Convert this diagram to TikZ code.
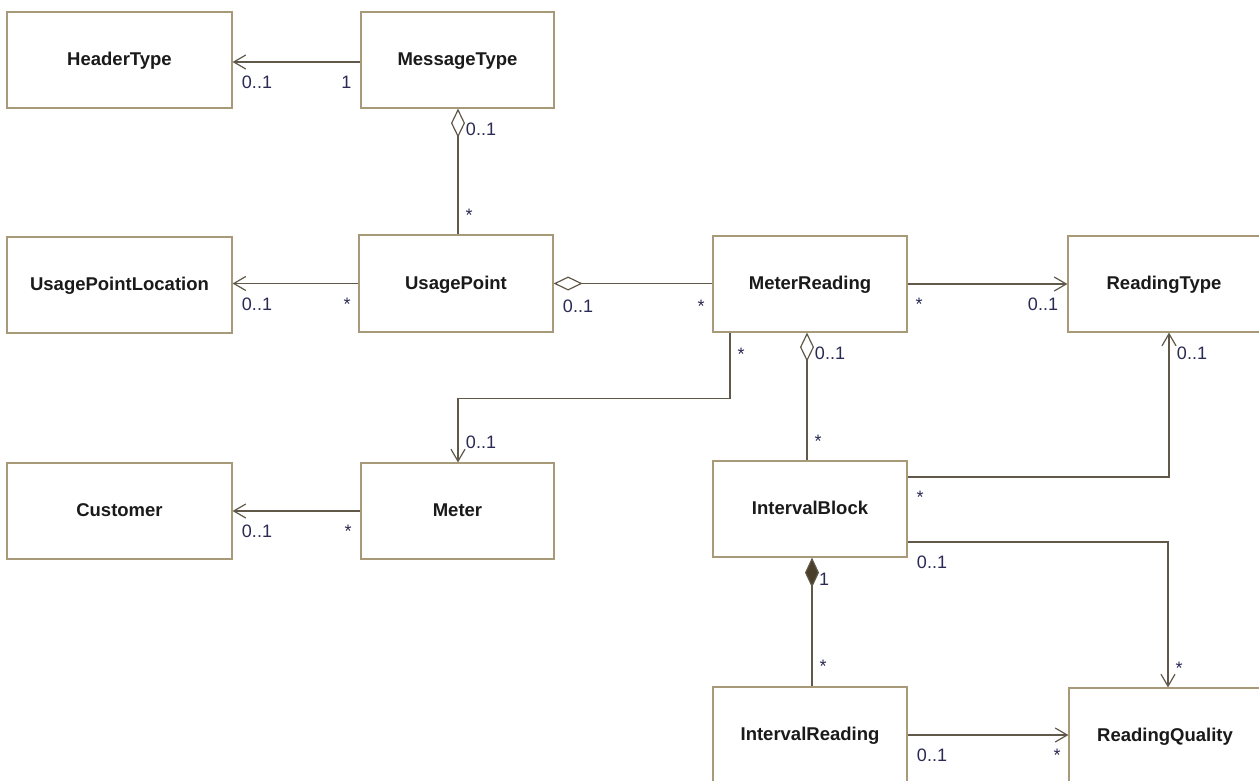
\documentclass[tikz,border=0pt]{standalone}
\usepackage{fontspec}
\setmainfont{Liberation Sans}
\usetikzlibrary{arrows.meta}
\definecolor{boxc}{HTML}{A89A78}
\definecolor{linec}{HTML}{605848}
\definecolor{labc}{HTML}{2A2A55}
\definecolor{diac}{HTML}{4A3F2A}
\definecolor{namec}{HTML}{1A1A1A}
\begin{document}
\begin{tikzpicture}[x=1pt,y=-1pt,
  cls/.style={draw=boxc, line width=1.2pt, fill=white, inner sep=0pt,
    minimum height=96pt, text=namec, text height=11pt, text depth=0pt,
    font=\bfseries\fontsize{18.5}{22}\selectfont},
  assoc/.style={draw=linec, line width=1.2pt},
  nav/.style={assoc, -{Straight Barb[length=12pt,width=14pt]}},
  agg/.style={assoc, {Diamond[open,length=29pt,width=14pt,fill=white]}-},
  comp/.style={assoc, {Diamond[length=30pt,width=14pt,fill=diac]}-},
  mult/.style={text=labc, font=\fontsize{18}{20}\selectfont, inner sep=0pt, anchor=base}]
\useasboundingbox[fill=white] (0,0) rectangle (1259,780);

% classes
\node[cls, minimum width=225pt] (ht) at (119.5,60) {HeaderType};
\node[cls, minimum width=193pt] (mt) at (457.5,60) {MessageType};
\node[cls, minimum width=225pt] (upl) at (119.5,285) {UsagePointLocation};
\node[cls, minimum width=194pt, minimum height=97pt] (up) at (456,283.5) {UsagePoint};
\node[cls, minimum width=194pt] (mr) at (810,284) {MeterReading};
\node[cls, minimum width=192pt] (rt) at (1164,284) {ReadingType};
\node[cls, minimum width=225pt] (cu) at (119.5,511) {Customer};
\node[cls, minimum width=193pt] (me) at (457.5,511) {Meter};
\node[cls, minimum width=194pt] (ib) at (810,509) {IntervalBlock};
\node[cls, minimum width=194pt] (ir) at (810,735) {IntervalReading};
\node[cls, minimum width=192pt] (rq) at (1165,736) {ReadingQuality};

% connectors
\draw[nav] ([yshift=-2pt]mt.west) -- ([yshift=-2pt]mt.west -| ht.east);
\draw[agg] ([xshift=0.5pt]mt.south) -- ([xshift=0.5pt]mt.south |- up.north);
\draw[nav] (up.west) -- (up.west -| upl.east);
\draw[agg] (up.east) -- (up.east -| mr.west);
\draw[nav] (mr.east) -- (mr.east -| rt.west);
\draw[nav] ([xshift=-80pt]mr.south) -- ++(0,66) -| ([xshift=0.5pt]me.north);
\draw[agg] ([xshift=-3pt]mr.south) -- ([xshift=-3pt]ib.north);
\draw[nav] ([yshift=32pt]ib.east) -| ([xshift=5pt]rt.south);
\draw[nav] ([yshift=-33pt]ib.east) -| ([xshift=3pt]rq.north);
\draw[comp] ([xshift=2pt]ib.south) -- ([xshift=2pt]ir.north);
\draw[nav] (ir.east) -- (ir.east -| rq.west);
\draw[nav] (me.west) -- (me.west -| cu.east);

% multiplicities
\node[mult] (m1) at (257,88.5) {0..1};
\node[mult] (m2) at (346.5,88.5) {1};
\node[mult] (m3) at (481,135.5) {0..1};
\node[mult] (m4) at (469,221) {*};
\node[mult] (m5) at (257,310.5) {0..1};
\node[mult] (m6) at (347,310) {*};
\node[mult] (m7) at (578,312.5) {0..1};
\node[mult] (m8) at (701,312) {*};
\node[mult] (m9) at (919,310) {*};
\node[mult] (m10) at (1043,310.5) {0..1};
\node[mult] (m11) at (741,360) {*};
\node[mult] (m12) at (481,448) {0..1};
\node[mult] (m13) at (830,359.5) {0..1};
\node[mult] (m14) at (818,447) {*};
\node[mult] (m15) at (1192,359.5) {0..1};
\node[mult] (m16) at (920,503) {*};
\node[mult] (m17) at (932,568.5) {0..1};
\node[mult] (m18) at (1179,674) {*};
\node[mult] (m19) at (824,585.5) {1};
\node[mult] (m20) at (823,672) {*};
\node[mult] (m21) at (932,761.5) {0..1};
\node[mult] (m22) at (1057,761) {*};
\node[mult] (m23) at (257,537.5) {0..1};
\node[mult] (m24) at (348,537) {*};
\end{tikzpicture}
\end{document}
